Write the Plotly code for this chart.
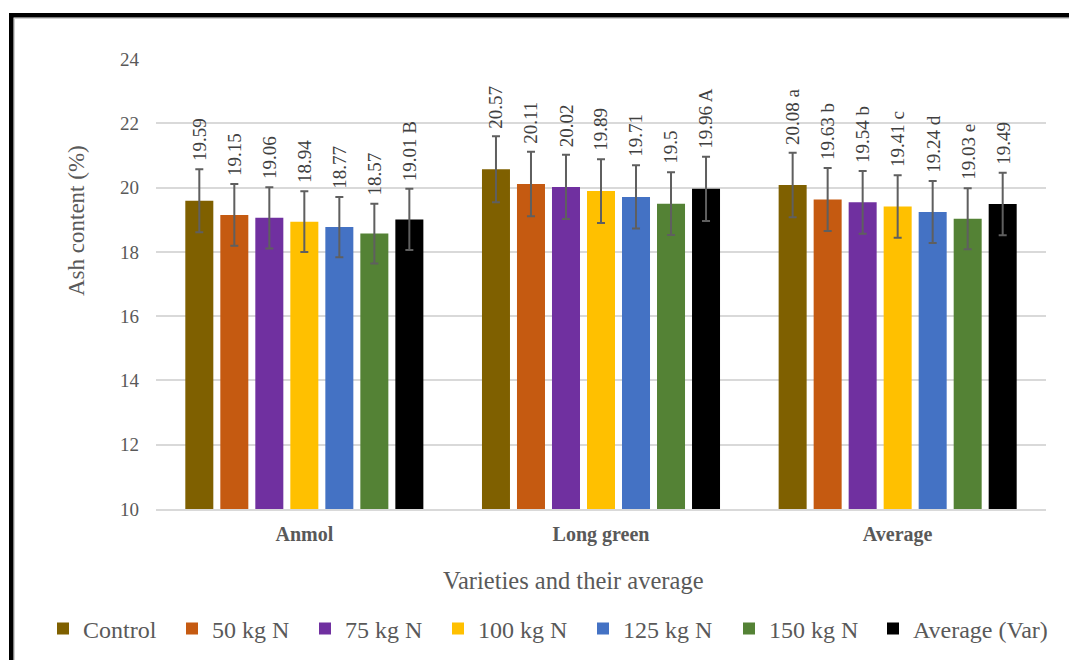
import plotly.graph_objects as go

categories = ["Anmol", "Long green", "Average"]
series_names = ["Control", "50 kg N", "75 kg N", "100 kg N", "125 kg N", "150 kg N", "Average (Var)"]
colors = ["#7F6000", "#C55A11", "#7030A0", "#FFC000", "#4472C4", "#548235", "#000000"]

control = [19.59, 20.57, 20.08]
n50 = [19.15, 20.11, 19.63]
n75 = [19.06, 20.02, 19.54]
n100 = [18.94, 19.89, 19.41]
n125 = [18.77, 19.71, 19.24]
n150 = [18.57, 19.50, 19.03]
avg_var = [19.01, 19.96, 19.49]

label_control = ["19.59", "20.57", "20.08 a"]
label_n50 = ["19.15", "20.11", "19.63 b"]
label_n75 = ["19.06", "20.02", "19.54 b"]
label_n100 = ["18.94", "19.89", "19.41 c"]
label_n125 = ["18.77", "19.71", "19.24 d"]
label_n150 = ["18.57", "19.5", "19.03 e"]
label_avg = ["19.01 B", "19.96 A", "19.49"]

error_percent = 5  # Excel-style 5% error bars

series_values = [control, n50, n75, n100, n125, n150, avg_var]
series_labels = [label_control, label_n50, label_n75, label_n100, label_n125, label_n150, label_avg]

FONT = "Times New Roman, Liberation Serif, DejaVu Serif, serif"

W, H = 1069, 660
L, R, T, B = 156, 23, 59, 151
bargap = 0.174

# pixel x of each legend entry's swatch centre (layout, not data)
legend_px = [63, 192, 325, 458, 603, 749, 893]

def px_x(p):
    return (p - L) / (W - L - R)

def px_y(p):
    return (H - B - p) / (H - T - B)

fig = go.Figure()
legend_layouts = {}
for k, (name, vals, col) in enumerate(zip(series_names, series_values, colors)):
    lname = "legend" if k == 0 else f"legend{k + 1}"
    fig.add_trace(go.Bar(
        x=categories, y=vals, name=name, legend=lname, showlegend=True,
        marker=dict(color=col, line=dict(width=0)),
        error_y=dict(type="percent", value=error_percent, color="#5f5f5f",
                     thickness=2, width=4),
    ))
    legend_layouts[lname] = dict(
        orientation="h", x=px_x(legend_px[k] - 20), y=px_y(629), xanchor="left", yanchor="middle",
        font=dict(family=FONT, size=24, color="#595959"),
        itemwidth=30, bgcolor="rgba(0,0,0,0)", visible=True,
    )

annotations = []
n = len(series_names)
slot = (1 - bargap) / n
for i, (vals, labs) in enumerate(zip(series_values, series_labels)):
    for j, (v, t) in enumerate(zip(vals, labs)):
        annotations.append(dict(
            x=j + (i - (n - 1) / 2) * slot, y=v * (1 + error_percent / 100),
            xref="x", yref="y", text=t, showarrow=False, textangle=-90,
            xanchor="center", yanchor="bottom", yshift=6,
            font=dict(family=FONT, size=19, color="#404040"),
        ))

annotations.append(dict(
    text="Ash content (%)", x=px_x(76), y=px_y(221), xref="paper", yref="paper",
    showarrow=False, textangle=-90, xanchor="center", yanchor="middle",
    font=dict(family=FONT, size=23, color="#595959"),
))
annotations.append(dict(
    text="Varieties and their average", x=px_x(573), y=px_y(580), xref="paper", yref="paper",
    showarrow=False, xanchor="center", yanchor="middle",
    font=dict(family=FONT, size=24.5, color="#595959"),
))

shapes = [
    dict(type="rect", xref="paper", yref="paper", x0=px_x(9), x1=px_x(1075), y0=px_y(17.5), y1=px_y(13),
         fillcolor="black", line=dict(width=0), layer="above"),
    dict(type="rect", xref="paper", yref="paper", x0=px_x(9), x1=px_x(13.5), y0=px_y(670), y1=px_y(13),
         fillcolor="black", line=dict(width=0), layer="above"),
    dict(type="line", xref="paper", yref="paper", x0=px_x(14), x1=px_x(1075), y0=px_y(18.5), y1=px_y(18.5),
         line=dict(color="#d0d0d0", width=1)),
    dict(type="line", xref="paper", yref="paper", x0=px_x(14.5), x1=px_x(14.5), y0=px_y(670), y1=px_y(18.5),
         line=dict(color="#d0d0d0", width=1)),
]

fig.update_layout(
    width=W, height=H,
    margin=dict(l=L, r=R, t=T, b=B, autoexpand=False),
    paper_bgcolor="white", plot_bgcolor="white",
    showlegend=True,
    barmode="group", bargap=bargap, bargroupgap=0.2,
    font=dict(family=FONT, color="#595959"),
    xaxis=dict(
        type="category", showgrid=False, showline=True, linecolor="#d9d9d9", linewidth=2,
        ticks="", tickfont=dict(family=FONT, size=20, color="#595959"),
        tickvals=categories, ticktext=["<b>" + c + "</b>" for c in categories],
        ticklabelstandoff=6,
    ),
    yaxis=dict(
        range=[10, 24], dtick=2, showgrid=True, gridcolor="#d9d9d9", gridwidth=2,
        zeroline=False, showline=False, ticks="", ticklabelstandoff=16,
        tickfont=dict(family=FONT, size=19, color="#595959"),
    ),
    annotations=annotations,
    shapes=shapes,
    **legend_layouts,
)

fig.write_html("out.html")
